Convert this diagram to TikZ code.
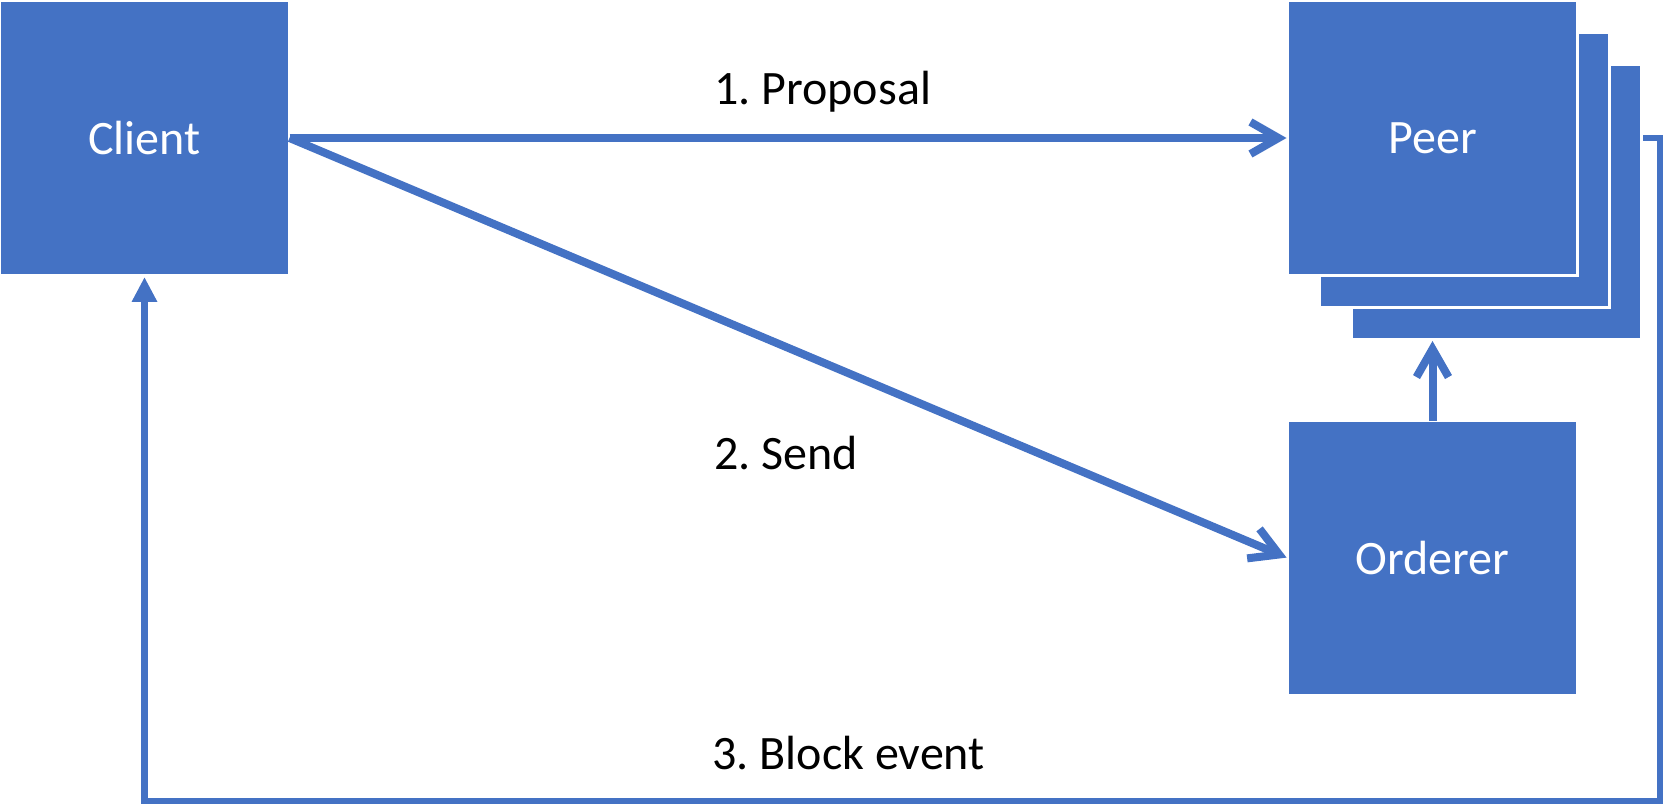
\documentclass[tikz,border=0pt]{standalone}
\usepackage{fontspec}
\setmainfont{Carlito}
\usetikzlibrary{arrows.meta,backgrounds}
\definecolor{officeblue}{HTML}{4472C4}
\frenchspacing
\tikzstyle{box}=[rectangle, draw=white, line width=1.5pt, fill=officeblue, text=white, minimum width=145pt, minimum height=137.5pt, inner sep=0pt, outer sep=0pt, font=\fontsize{24}{28}\selectfont]
\tikzstyle{msg}=[anchor=base west, inner sep=0pt, font=\fontsize{24}{28}\selectfont]
\tikzstyle{flow}=[draw=officeblue, line width=4pt, shorten >=0.5pt, -{Straight Barb[length=14pt, width=16pt]}]
\tikzstyle{blockflow}=[draw=officeblue, line width=3.25pt, shorten >=0.75pt, -{Triangle[length=12.5pt, width=12pt]}]

\begin{document}
\begin{tikzpicture}[x=0.5pt, y=-0.5pt]
                \useasboundingbox (0, 0) rectangle (1664, 807);
                \node[box] (client)  at ( 144.5, 138) {Client};
                \node[box] (peerC)   at (1496.5, 202) {};
                \node[box] (peerB)   at (1464.5, 170) {};
                \node[box] (peer)    at (1432.5, 138) {Peer};
                \node[box] (orderer) at (1432.5, 558) {Orderer};
                \coordinate (blockcorner) at (1660, 801);
                \node[msg] (proposal) at (714, 105) {1. Proposal};
                \node[msg] (send)     at (714, 469) {2. Send};
                \node[msg] (block)    at (712, 769) {3. Block event};
                \draw[flow] (client.east) -- (peer.west);
                \draw[flow] (client.east) -- (orderer.west);
                \draw[flow, shorten >=0.75pt] (orderer.north) -- (orderer.north |- peerC.south);
                \begin{scope}[on background layer]
                    \draw[blockflow] (peer.east) -| (blockcorner) -| (client.south);
                \end{scope}
            \end{tikzpicture}
\end{document}
